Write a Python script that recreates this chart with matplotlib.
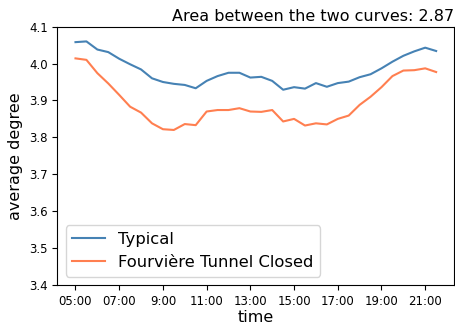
import matplotlib
matplotlib.use("Agg")
import matplotlib.pyplot as plt
import numpy as np

# half-hourly samples from 05:00 to 21:30
hours = np.arange(5, 22, 0.5)

typical = [4.058, 4.060, 4.038, 4.031, 4.013, 3.998, 3.984, 3.960, 3.950, 3.945,
           3.942, 3.933, 3.953, 3.966, 3.975, 3.975, 3.962, 3.964, 3.953, 3.929,
           3.936, 3.932, 3.947, 3.937, 3.947, 3.951, 3.963, 3.971, 3.987, 4.005,
           4.021, 4.033, 4.043, 4.034]
closed = [4.014, 4.010, 3.974, 3.946, 3.915, 3.883, 3.867, 3.838, 3.822, 3.820,
          3.836, 3.833, 3.870, 3.874, 3.874, 3.879, 3.870, 3.869, 3.874, 3.843,
          3.850, 3.832, 3.838, 3.835, 3.850, 3.859, 3.888, 3.910, 3.936, 3.966,
          3.981, 3.982, 3.987, 3.977]

tick_hours = [5, 7, 9, 11, 13, 15, 17, 19, 21]
tick_labels = ["05:00", "07:00", "9:00", "11:00", "13:00", "15:00", "17:00", "19:00", "21:00"]
area = 2.87

fig = plt.figure(figsize=(4.56, 3.29), dpi=100)
ax = fig.add_axes([0.126, 0.134, 0.870, 0.785])

ax.plot(hours, typical, color="steelblue", lw=1.5, label="Typical")
ax.plot(hours, closed, color="coral", lw=1.5, label="Fourvière Tunnel Closed")

ax.set_ylim(3.4, 4.1)
ax.set_xticks(tick_hours)
ax.set_xticklabels(tick_labels)
ax.tick_params(labelsize=8.5)
ax.set_xlabel("time", fontsize=11.5, labelpad=2)
ax.set_ylabel("average degree", fontsize=11.5)
ax.set_title(f"Area between the two curves: {area}", loc="right", fontsize=11.5, pad=4)
ax.legend(loc="lower left", fontsize=11.8)

fig.savefig("out.png", dpi=100)
